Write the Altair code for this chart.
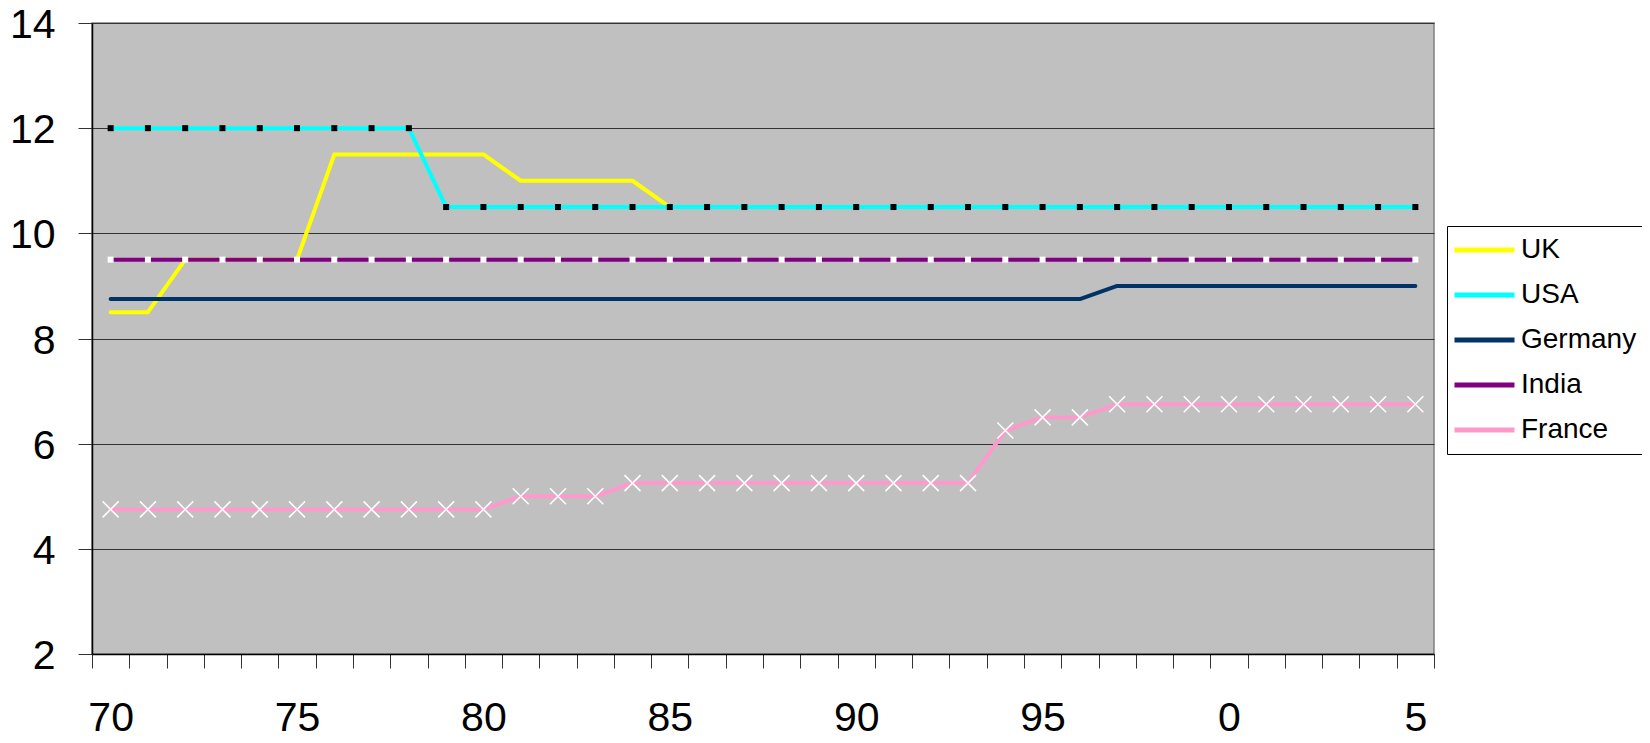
import altair as alt
import pandas as pd

years = ["70", "71", "72", "73", "74", "75", "76", "77", "78", "79",
         "80", "81", "82", "83", "84", "85", "86", "87", "88", "89",
         "90", "91", "92", "93", "94", "95", "96", "97", "98", "99",
         "0", "1", "2", "3", "4", "5"]
label_years = ["70", "75", "80", "85", "90", "95", "0", "5"]

uk = [8.5, 8.5, 9.5, 9.5, 9.5, 9.5, 11.5, 11.5, 11.5, 11.5,
      11.5, 11, 11, 11, 11, 10.5, 10.5, 10.5, 10.5, 10.5,
      10.5, 10.5, 10.5, 10.5, 10.5, 10.5, 10.5, 10.5, 10.5, 10.5,
      10.5, 10.5, 10.5, 10.5, 10.5, 10.5]
usa = [12, 12, 12, 12, 12, 12, 12, 12, 12, 10.5,
       10.5, 10.5, 10.5, 10.5, 10.5, 10.5, 10.5, 10.5, 10.5, 10.5,
       10.5, 10.5, 10.5, 10.5, 10.5, 10.5, 10.5, 10.5, 10.5, 10.5,
       10.5, 10.5, 10.5, 10.5, 10.5, 10.5]
germany = [8.75, 8.75, 8.75, 8.75, 8.75, 8.75, 8.75, 8.75, 8.75, 8.75,
           8.75, 8.75, 8.75, 8.75, 8.75, 8.75, 8.75, 8.75, 8.75, 8.75,
           8.75, 8.75, 8.75, 8.75, 8.75, 8.75, 8.75, 9, 9, 9,
           9, 9, 9, 9, 9, 9]
india = [9.5, 9.5, 9.5, 9.5, 9.5, 9.5, 9.5, 9.5, 9.5, 9.5,
         9.5, 9.5, 9.5, 9.5, 9.5, 9.5, 9.5, 9.5, 9.5, 9.5,
         9.5, 9.5, 9.5, 9.5, 9.5, 9.5, 9.5, 9.5, 9.5, 9.5,
         9.5, 9.5, 9.5, 9.5, 9.5, 9.5]
france = [4.75, 4.75, 4.75, 4.75, 4.75, 4.75, 4.75, 4.75, 4.75, 4.75,
          4.75, 5, 5, 5, 5.25, 5.25, 5.25, 5.25, 5.25, 5.25,
          5.25, 5.25, 5.25, 5.25, 6.25, 6.5, 6.5, 6.75, 6.75, 6.75,
          6.75, 6.75, 6.75, 6.75, 6.75, 6.75]

series_names = ["UK", "USA", "Germany", "India", "France"]
series_values = [uk, usa, germany, india, france]
series_colors = ["#FFFF00", "#00FFFF", "#003366", "#800080", "#FF99CC"]

rows = []
for name, vals in zip(series_names, series_values):
    for y, v in zip(years, vals):
        rows.append({"series": name, "year": y, "value": v})
df = pd.DataFrame(rows)

FONT = "Liberation Sans"
label_list = "[" + ",".join("'%s'" % s for s in label_years) + "]"

x_enc = alt.X(
    "year:O", sort=years,
    scale=alt.Scale(type="band", paddingInner=0, paddingOuter=0),
    axis=alt.Axis(
        title=None, tickBand="extent", tickSize=14, tickColor="#333333",
        labelExpr="indexof(%s, datum.value) >= 0 ? datum.value : ''" % label_list,
        labelFontSize=41, labelFont=FONT, labelColor="black", labelAngle=0,
        labelPadding=30, labelOverlap=False, labelBound=False, labelFlush=False,
        domainColor="black", domainWidth=1.5, grid=False,
    ),
)
y_enc = alt.Y(
    "value:Q",
    scale=alt.Scale(domain=[2, 14], nice=False, zero=False),
    axis=alt.Axis(
        title=None, values=[2, 4, 6, 8, 10, 12, 14], tickSize=14, tickColor="#333333",
        labelFontSize=41, labelFont=FONT, labelColor="black", labelPadding=23,
        labelOffset=2.5, labelFlush=False, labelBound=False,
        domainColor="black", domainWidth=1.5,
        grid=True, gridColor="#333333", gridWidth=1.2,
    ),
)
color_enc = alt.Color(
    "series:N",
    scale=alt.Scale(domain=series_names, range=series_colors),
    legend=alt.Legend(
        title=None, orient="none", legendX=1355, legendY=203,
        strokeColor="black", fillColor="white", padding=5,
        symbolType="stroke", symbolSize=3600, symbolStrokeWidth=5,
        clipHeight=38, rowPadding=7, labelFontSize=28, labelFont=FONT,
        labelColor="black", labelOffset=4,
    ),
)

base = alt.Chart(df)
layers = []
for name in series_names:
    line = base.transform_filter(alt.datum.series == name).mark_line(
        strokeWidth=4, strokeCap="round", strokeJoin="round"
    ).encode(x=x_enc, y=y_enc, color=color_enc)
    layers.append(line)
    if name == "USA":
        layers.append(base.transform_filter(alt.datum.series == name).mark_point(
            shape="square", filled=True, size=36, opacity=1
        ).encode(x=x_enc, y=y_enc, color=alt.value("black")))
    if name == "India":
        layers.append(base.transform_filter(alt.datum.series == name).mark_point(
            shape="square", filled=True, size=36, opacity=1
        ).encode(x=x_enc, y=y_enc, color=alt.value("white")))
    if name == "France":
        layers.append(base.transform_filter(alt.datum.series == name).mark_point(
            shape="M-1,-1L1,1M1,-1L-1,1", filled=False, size=256, strokeWidth=1.5, opacity=1
        ).encode(x=x_enc, y=y_enc, color=alt.value("white")))

chart = alt.layer(*layers).properties(
    width=1342, height=631,
    autosize=alt.AutoSizeParams(type="none"),
    padding={"left": 84, "top": 15, "right": 208, "bottom": 89},
).configure_view(
    fill="#C0C0C0", stroke="#808080", strokeWidth=1.5
)

chart.save("out.html", embed_options={"renderer": "svg", "actions": False})
